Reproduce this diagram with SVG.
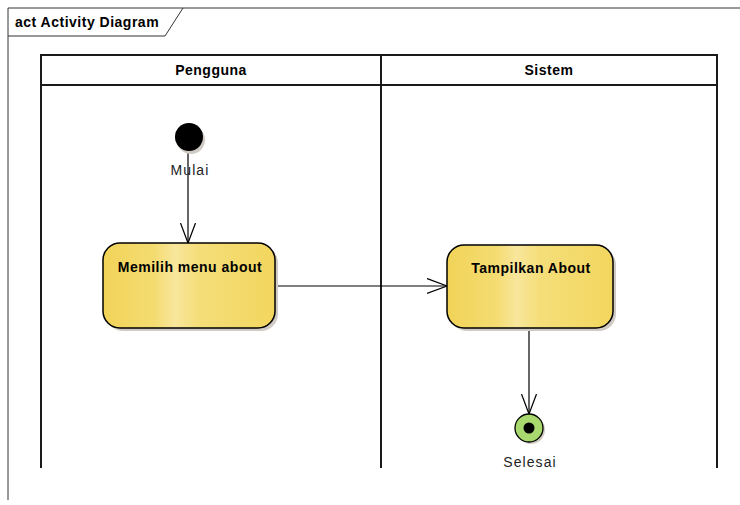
<svg xmlns="http://www.w3.org/2000/svg" width="740" height="505" viewBox="0 0 740 505">
<style>
.lane{stroke:#1a1a1a;stroke-width:2;fill:none}
.hdr{font-family:"Liberation Sans",Arial,sans-serif;font-size:14px;font-weight:bold;fill:#000;text-anchor:middle;letter-spacing:0.5px}
.act{fill:url(#yg);stroke:#000;stroke-width:1.5}
.shadow{fill:#cfcbc4}
.atxt{font-family:"Liberation Sans",Arial,sans-serif;font-size:14px;font-weight:bold;fill:#000;text-anchor:middle;letter-spacing:0.5px}
.lbl{font-family:"Liberation Sans",Arial,sans-serif;font-size:14px;fill:#222;text-anchor:middle;letter-spacing:1.1px}
.conn{stroke:#000;stroke-width:1.2;fill:none}
</style>
<defs>
<linearGradient id="yg" x1="0" y1="0" x2="1" y2="0">
<stop offset="0" stop-color="#f1d358"/>
<stop offset="0.3" stop-color="#f4dc72"/>
<stop offset="0.42" stop-color="#f8e69c"/>
<stop offset="0.55" stop-color="#f5de7a"/>
<stop offset="1" stop-color="#f2d65e"/>
</linearGradient>
<marker id="open" markerWidth="22" markerHeight="18" refX="20" refY="8" orient="auto" markerUnits="userSpaceOnUse">
<path d="M0,0.5 L20,8 L0,15.5" fill="none" stroke="#000" stroke-width="1.2"/>
</marker>
</defs>
<rect width="740" height="505" fill="#fff"/>
<g id="frame">
<path d="M8,500 L8,8 L740,8" fill="none" stroke="#333" stroke-width="1"/>
<path d="M8,36 L165,36 L183,8" fill="none" stroke="#333" stroke-width="1"/>
<text x="15" y="27" font-family="Liberation Sans,Arial,sans-serif" font-size="14" font-weight="bold" letter-spacing="0.5" fill="#000">act Activity Diagram</text>
</g>
<g id="lanes">
<path class="lane" d="M41,468 L41,55 L717,55 L717,468"/>
<path class="lane" d="M41,85 L717,85"/>
<path class="lane" d="M381,55 L381,468"/>
<text class="hdr" x="211" y="75">Pengguna</text>
<text class="hdr" x="549" y="75">Sistem</text>
</g>
<g id="connectors">
<path class="conn" d="M188,151 L188,243" marker-end="url(#open)"/>
<path class="conn" d="M275,286 L447,286" marker-end="url(#open)"/>
<path class="conn" d="M529,328 L529,414" marker-end="url(#open)"/>
</g>
<g id="start">
<circle cx="191" cy="140" r="14" class="shadow"/>
<circle cx="189" cy="137" r="14" fill="#000"/>
<text class="lbl" x="190" y="175">Mulai</text>
</g>
<g id="memilih">
<rect x="106" y="246" width="172" height="85" rx="17" class="shadow"/>
<rect x="103" y="243" width="172" height="85" rx="17" class="act"/>
<text class="atxt" x="190" y="272">Memilih menu about</text>
</g>
<g id="tampilkan">
<rect x="450" y="248" width="166" height="83" rx="17" class="shadow"/>
<rect x="447" y="245" width="166" height="83" rx="17" class="act"/>
<text class="atxt" x="531" y="273">Tampilkan About</text>
</g>
<g id="end">
<circle cx="531" cy="430" r="14" class="shadow"/>
<circle cx="529" cy="428" r="14" fill="#a9d86e" stroke="#000" stroke-width="1.3"/>
<circle cx="529" cy="428" r="5.5" fill="#000"/>
<text class="lbl" x="530" y="467">Selesai</text>
</g>
</svg>
